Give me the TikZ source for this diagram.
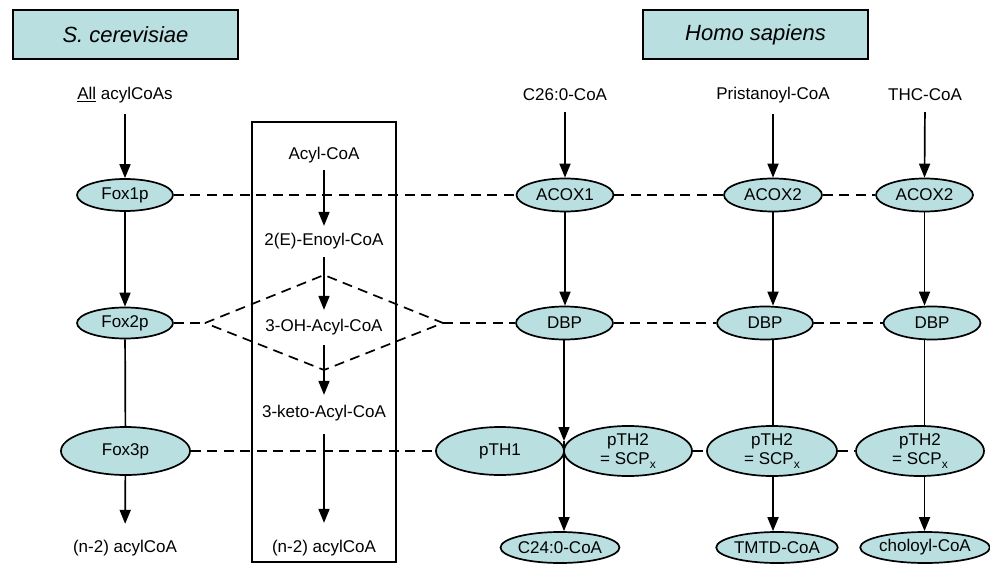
\documentclass[tikz,border=0pt]{standalone}
\usepackage{fontspec}
\setmainfont{Liberation Sans}
\usetikzlibrary{shapes.geometric,arrows.meta}
\definecolor{enzfill}{RGB}{185,223,225}
\newcommand{\subx}{\raisebox{-4.5pt}{\fontsize{12}{12}\selectfont x}}
\begin{document}
\begin{tikzpicture}[x=1pt,y=-1pt,
  every node/.style={font=\fontsize{17}{19}\selectfont, inner sep=0pt},
  enz/.style={ellipse, draw, fill=enzfill, line width=1.7pt, minimum height=33pt},
  arr/.style={line width=1.7pt, -{Triangle[length=14pt,width=11pt]}},
  ln/.style={line width=1.7pt},
  dsh/.style={line width=1.7pt, dash pattern=on 10pt off 6.5pt},
  title/.style={draw, fill=enzfill, line width=1.7pt, minimum width=225pt, minimum height=49pt, font=\fontsize{22}{26}\selectfont\itshape}]
\useasboundingbox (0,0) rectangle (990,564);

% titles
\node[title] (sc) at (125.5,34.5) {S. cerevisiae};
\node[title] (hs) at (755.5,34.5) {Homo sapiens};

% substrate labels
\node (allA) at (125,95) {\underline{All} acylCoAs};
\node (c26) at (565,95) {C26:0-CoA};
\node (prist) at (773,95) {Pristanoyl-CoA};
\node (thc) at (925,95) {THC-CoA};

% yeast column
\node[enz, minimum width=96pt, minimum height=32pt] (fox1) at (125,195) {Fox1p};
\node[enz, minimum width=96pt, minimum height=31pt] (fox2) at (125,323) {Fox2p};
\node[enz, minimum width=129pt, minimum height=48pt] (fox3) at (125.5,451) {Fox3p};
\node (n2L) at (125,548) {(n-2) acylCoA};

% middle box
\node[draw, line width=1.7pt, minimum width=144pt, minimum height=440pt] (box) at (324,342) {};
\node (acyl) at (324,155) {Acyl-CoA};
\node (enoyl) at (324,241) {2(E)-Enoyl-CoA};
\node (oh) at (324,327) {3-OH-Acyl-CoA};
\node (keto) at (324,413) {3-keto-Acyl-CoA};
\node (n2M) at (324,548) {(n-2) acylCoA};

% diamond corners
\coordinate (dl) at (205,323);
\coordinate (dt) at (324,275);
\coordinate (dr) at (443,323);
\coordinate (db) at (324,370);

% human enzymes
\node[enz, minimum width=97pt] (acox1) at (565,195) {ACOX1};
\node[enz, minimum width=98pt] (acox2) at (773,195) {ACOX2};
\node[enz, minimum width=97pt] (acox3) at (924.5,195) {ACOX2};
\node[enz, minimum width=97pt] (dbp1) at (564.5,323) {DBP};
\node[enz, minimum width=96pt] (dbp2) at (765,323) {DBP};
\node[enz, minimum width=97pt] (dbp3) at (932,323) {DBP};
\node[enz, minimum width=128pt, minimum height=48pt] (pth1) at (500,451) {pTH1};
\node[enz, minimum width=128pt, minimum height=48pt, align=center] (pth2a) at (628,451) {pTH2\\= SCP\subx};
\node[enz, minimum width=130pt, minimum height=48pt, align=center] (pth2b) at (772,451) {pTH2\\= SCP\subx};
\node[enz, minimum width=128pt, minimum height=48pt, align=center] (pth2c) at (920,451) {pTH2\\= SCP\subx};
\node[enz, minimum width=106pt, minimum height=31pt] (c24) at (560,547.5) {C24:0-CoA};
\node[enz, minimum width=105pt, minimum height=31pt] (tmtd) at (777,547.5) {TMTD-CoA};
\node[enz, minimum width=114pt, minimum height=31pt] (cholo) at (925,547.5) {choloyl-CoA};
\coordinate (J) at (564,441);

% yeast arrows
\draw[arr, shorten <=11pt] (allA.south) -- (fox1.north);
\draw[arr] (fox1) -- (fox2);
\draw[ln] (fox2) -- (fox3);
\draw[arr, shorten >=16pt] (fox3) -- (n2L);

% box arrows
\draw[arr, shorten <=7pt, shorten >=7pt] (acyl) -- (enoyl);
\draw[arr, shorten <=8pt, shorten >=9pt] (enoyl) -- (oh);
\draw[arr, shorten <=10pt, shorten >=10pt] (oh) -- (keto);
\draw[arr, shorten <=13pt, shorten >=17pt] (keto) -- (n2M);

% human arrows
\draw[arr, shorten <=11pt] (c26.south) -- (acox1.north);
\draw[arr, shorten <=11pt] (prist.south) -- (acox2.north);
\draw[arr, shorten <=11pt] (thc.south) -- (acox3.north);
\draw[arr] (acox1.south) -- (acox1.south |- dbp1.north);
\draw[arr] (acox2.south) -- (acox2.south |- dbp2.north);
\draw[arr] (acox3.south) -- (acox3.south |- dbp3.north);
\draw[arr] (dbp1.south -| J) -- (J);
\draw[arr] (J) -- (J |- c24.north);
\draw[ln] (acox2.south |- dbp2.south) -- (acox2.south |- pth2b.north);
\draw[arr] (acox2.south |- pth2b.south) -- (acox2.south |- tmtd.north);
\draw[ln] (acox3.south |- dbp3.south) -- (acox3.south |- pth2c.north);
\draw[arr] (acox3.south |- pth2c.south) -- (acox3.south |- cholo.north);

% dashed correspondences
\draw[dsh] (fox1.east) -- (acox1.west);
\draw[dsh] (acox1.east) -- (acox2.west);
\draw[dsh] (acox2.east) -- (acox3.west);
\draw[dsh] (fox2.east) -- (dl);
\draw[dsh] (dl) -- (dt) -- (dr) -- (db) -- cycle;
\draw[dsh] (dr) -- (dbp1.west);
\draw[dsh] (dbp1.east) -- (dbp2.west);
\draw[dsh] (dbp2.east) -- (dbp3.west);
\draw[dsh] (fox3.east) -- (pth1.west);
\draw[dsh] (pth2a.east) -- (pth2b.west);
\draw[dsh] (pth2b.east) -- (pth2c.west);
\end{tikzpicture}
\end{document}
